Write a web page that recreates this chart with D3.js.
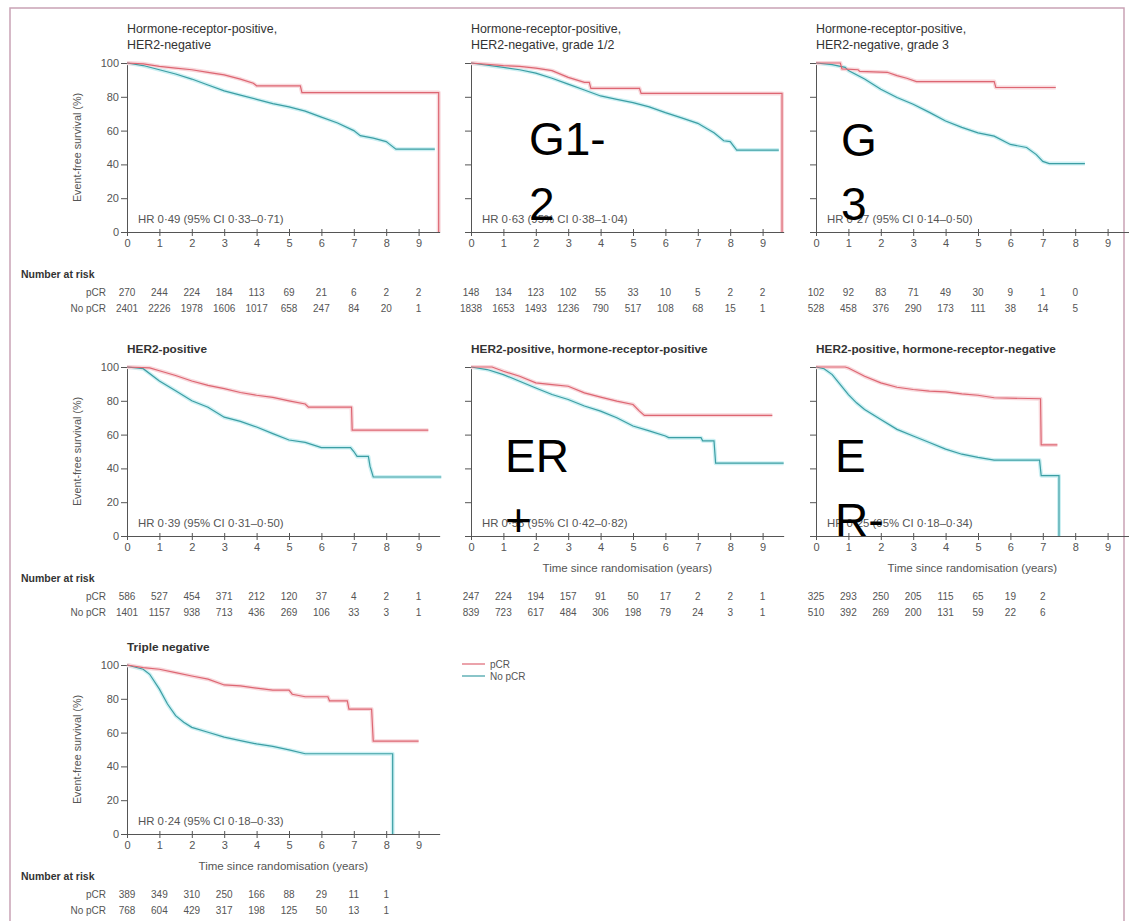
<!DOCTYPE html>
<html>
<head>
<meta charset="utf-8">
<script src="https://cdn.jsdelivr.net/npm/d3@7"></script>
<style>
  body { margin: 0; background: #fff; }
  svg { display: block; }
  text { font-family: "Liberation Sans", Arial, sans-serif; }
</style>
</head>
<body>
<svg id="chart" width="1129" height="921"></svg>
<script>
// ---- Kaplan–Meier estimates: [years, event-free survival %] ----
const pcr_hrposHer2neg   = [[0,100],[0.5,99.5],[1,98],[1.5,97],[2,96],[2.5,94.5],[3,93],[3.5,90.5],[3.9,88],[4,86.5],[5.35,86.5],[5.4,82.5],[9.62,82.5],[9.62,0]];
const nopcr_hrposHer2neg = [[0,100],[0.5,98.5],[1,96],[1.5,93.5],[2,90.5],[2.5,87],[3,83.5],[3.5,81],[4,78.5],[4.5,76],[5,74],[5.5,71.5],[6,68],[6.5,64.5],[7,60],[7.2,57],[7.6,55.5],[8,53.5],[8.1,52],[8.3,49],[9.5,49]];

const pcr_grade12   = [[0,100],[1,98.5],[1.5,98],[2,97],[2.5,95.5],[3,91.5],[3.5,88.5],[3.65,88.5],[3.7,85],[5.2,85],[5.25,82],[9.6,82],[9.6,0]];
const nopcr_grade12 = [[0,100],[1,97.4],[1.5,96],[2,94],[2.5,91],[3,87.5],[3.5,84],[4,80.5],[4.5,78.5],[5,76.6],[5.5,74],[6,70.6],[6.5,67.5],[7,64.3],[7.3,61],[7.5,58.7],[7.8,54],[8,53.5],[8.2,48.5],[9.5,48.5]];

const pcr_grade3   = [[0,100],[0.75,100],[0.8,96.5],[1.3,96],[1.35,95],[2.2,94.5],[2.5,92.5],[2.8,91],[3.1,89],[5.5,89],[5.55,85.5],[7.4,85.5]];
const nopcr_grade3 = [[0,100],[0.5,99],[0.9,97.4],[1,95.5],[1.5,90.5],[2,84.5],[2.5,79.6],[3,75.6],[3.5,70.8],[4,65.7],[4.5,61.9],[5,58.7],[5.5,56.7],[6,51.8],[6.5,50],[6.8,45.8],[7,41.8],[7.2,40.5],[8.3,40.5]];

const pcr_her2pos   = [[0,100],[0.7,99.5],[1,97.8],[1.5,95],[2,91.7],[2.5,89.1],[3,87.2],[3.5,84.9],[4,83.3],[4.5,82],[5,80],[5.5,78.1],[5.6,76.2],[6.93,76.2],[6.95,62.6],[9.3,62.6]];
const nopcr_her2pos = [[0,100],[0.5,99],[1,91.7],[1.5,85.9],[2,80],[2.5,76.2],[3,70.3],[3.5,67.8],[4,64.5],[4.5,60.6],[5,56.8],[5.5,55.4],[6,52.3],[6.9,52.3],[7,50],[7.1,47.1],[7.45,47.1],[7.5,41.3],[7.6,34.9],[9.7,34.9]];

const pcr_her2posHrpos   = [[0,100],[0.65,100],[1,97.5],[1.5,94.5],[2,90.6],[2.5,89.6],[3,88.6],[3.5,84.7],[4,82.2],[4.5,79.8],[5,77.8],[5.2,73.9],[5.35,71.4],[9.3,71.4]];
const nopcr_her2posHrpos = [[0,100],[0.5,98.5],[1,95.5],[1.5,91.6],[2,87.6],[2.5,83.7],[3,80.8],[3.5,76.9],[4,73.9],[4.5,70],[5,65.1],[5.5,62.2],[6,59.2],[6.1,58.2],[7.1,58.2],[7.15,56.3],[7.5,56.3],[7.55,43.1],[9.65,43.1]];

const pcr_her2posHrneg   = [[0,100],[0.9,100],[1,99.4],[1.5,94.5],[2,90.6],[2.5,88],[3,86.7],[3.5,85.7],[4,85.3],[4.5,84.1],[5,83.3],[5.5,81.8],[6.93,81.2],[6.95,53.9],[7.45,53.9]];
const nopcr_her2posHrneg = [[0,100],[0.25,99],[0.5,95.5],[0.75,89.6],[1,83.7],[1.25,78.8],[1.5,74.9],[2,69],[2.5,63.1],[3,59.2],[3.5,55.3],[4,51.4],[4.5,48.4],[5,46.5],[5.5,44.9],[6.9,44.9],[6.95,35.7],[7.5,35.7],[7.5,0]];

const pcr_tnbc   = [[0,100],[0.5,98.4],[1,97.5],[1.5,95.5],[2,93.5],[2.5,91.6],[3,88.2],[3.5,87.6],[4,86.3],[4.5,85.1],[5,85.1],[5.1,82.7],[5.5,81.2],[6.2,81.2],[6.25,78.8],[6.8,78.8],[6.85,73.9],[7.55,73.9],[7.6,54.9],[9,54.9]];
const nopcr_tnbc = [[0,100],[0.5,97.5],[0.7,94.5],[1,85.7],[1.25,76.9],[1.5,70],[1.75,66.1],[2,63.1],[2.5,60.2],[3,57.3],[3.5,55.3],[4,53.3],[4.5,51.8],[5,49.8],[5.5,47.5],[8.2,47.5],[8.2,0]];

// ---- Number at risk, one value per year from 0 ----
const riskPcr_hrposHer2neg   = [270,244,224,184,113,69,21,6,2,2];
const riskNopcr_hrposHer2neg = [2401,2226,1978,1606,1017,658,247,84,20,1];
const riskPcr_grade12        = [148,134,123,102,55,33,10,5,2,2];
const riskNopcr_grade12      = [1838,1653,1493,1236,790,517,108,68,15,1];
const riskPcr_grade3         = [102,92,83,71,49,30,9,1,0];
const riskNopcr_grade3       = [528,458,376,290,173,111,38,14,5];
const riskPcr_her2pos        = [586,527,454,371,212,120,37,4,2,1];
const riskNopcr_her2pos      = [1401,1157,938,713,436,269,106,33,3,1];
const riskPcr_her2posHrpos   = [247,224,194,157,91,50,17,2,2,1];
const riskNopcr_her2posHrpos = [839,723,617,484,306,198,79,24,3,1];
const riskPcr_her2posHrneg   = [325,293,250,205,115,65,19,2];
const riskNopcr_her2posHrneg = [510,392,269,200,131,59,22,6];
const riskPcr_tnbc           = [389,349,310,250,166,88,29,11,1];
const riskNopcr_tnbc         = [768,604,429,317,198,125,50,13,1];

// ---- Axis ticks and labels ----
const yearTicks = [0,1,2,3,4,5,6,7,8,9];
const survivalTicks = [0,20,40,60,80,100];
const seriesNames = ["pCR", "No pCR"];
const xAxisTitle = "Time since randomisation (years)";
const yAxisTitle = "Event-free survival (%)";

const panels = [
  { row:0, col:0, title:["Hormone-receptor-positive,","HER2-negative"], bold:false,
    hr:"HR 0·49 (95% CI 0·33–0·71)", pcr:pcr_hrposHer2neg, nopcr:nopcr_hrposHer2neg,
    riskP:riskPcr_hrposHer2neg, riskN:riskNopcr_hrposHer2neg, xTitle:false },
  { row:0, col:1, title:["Hormone-receptor-positive,","HER2-negative, grade 1/2"], bold:false,
    hr:"HR 0·63 (95% CI 0·38–1·04)", pcr:pcr_grade12, nopcr:nopcr_grade12,
    riskP:riskPcr_grade12, riskN:riskNopcr_grade12, xTitle:false,
    tag:{ lines:["G1-","2"], x:529, y:[155,220] } },
  { row:0, col:2, title:["Hormone-receptor-positive,","HER2-negative, grade 3"], bold:false,
    hr:"HR 0·27 (95% CI 0·14–0·50)", pcr:pcr_grade3, nopcr:nopcr_grade3,
    riskP:riskPcr_grade3, riskN:riskNopcr_grade3, xTitle:false,
    tag:{ lines:["G","3"], x:841, y:[156,220] } },
  { row:1, col:0, title:["HER2-positive"], bold:true,
    hr:"HR 0·39 (95% CI 0·31–0·50)", pcr:pcr_her2pos, nopcr:nopcr_her2pos,
    riskP:riskPcr_her2pos, riskN:riskNopcr_her2pos, xTitle:false },
  { row:1, col:1, title:["HER2-positive, hormone-receptor-positive"], bold:true,
    hr:"HR 0·58 (95% CI 0·42–0·82)", pcr:pcr_her2posHrpos, nopcr:nopcr_her2posHrpos,
    riskP:riskPcr_her2posHrpos, riskN:riskNopcr_her2posHrpos, xTitle:true,
    tag:{ lines:["ER","+"], x:505, y:[472,536] } },
  { row:1, col:2, title:["HER2-positive, hormone-receptor-negative"], bold:true,
    hr:"HR 0·25 (95% CI 0·18–0·34)", pcr:pcr_her2posHrneg, nopcr:nopcr_her2posHrneg,
    riskP:riskPcr_her2posHrneg, riskN:riskNopcr_her2posHrneg, xTitle:true,
    tag:{ lines:["E","R-"], x:835, y:[472,536] } },
  { row:2, col:0, title:["Triple negative"], bold:true,
    hr:"HR 0·24 (95% CI 0·18–0·33)", pcr:pcr_tnbc, nopcr:nopcr_tnbc,
    riskP:riskPcr_tnbc, riskN:riskNopcr_tnbc, xTitle:true }
];

// ---- Layout ----
const colX = [127, 471, 816];      // y-axis position of each column
const rowBase = [232, 536, 834];   // y of 0% in each row
const plotH = 169;
const pxPerYear = 32.4;
const xMax = 9.65;

const colors = { pcr:"#dd6672", nopcr:"#3c9ea4", pcrHalo:"#f8d8dc", nopcrHalo:"#cdf0f3",
                 axis:"#555", text:"#555", dark:"#333", frame:"#c9a3b5" };

const svg = d3.select("#chart");

// outer frame
svg.append("path")
  .attr("d", "M10,930 L10,8 L1124,8 L1124,930")
  .attr("fill", "none").attr("stroke", colors.frame).attr("stroke-width", 1.5);

panels.forEach(p => {
  const x0 = colX[p.col], yb = rowBase[p.row];
  const x = d3.scaleLinear().domain([0, xMax]).range([x0, x0 + xMax * pxPerYear]);
  const y = d3.scaleLinear().domain([0, 100]).range([yb, yb - plotH]);
  const g = svg.append("g");

  // title
  const nT = p.title.length;
  p.title.forEach((t, i) => {
    g.append("text").attr("x", x0).attr("y", y(100) - 14 - (nT - 1 - i) * 16)
      .attr("font-size", p.bold ? 11.8 : 12.4).attr("font-weight", p.bold ? "bold" : "normal")
      .attr("fill", colors.dark).text(t);
  });

  // axes
  const xa = g.append("g").attr("transform", `translate(0,${yb})`)
    .call(d3.axisBottom(x).tickValues(yearTicks).tickSize(4).tickSizeOuter(0).tickPadding(3).tickFormat(d3.format("d")));
  xa.selectAll(".tick line").attr("y1", -3);
  const ya = g.append("g").attr("transform", `translate(${x0},0)`)
    .call(d3.axisLeft(y).tickValues(survivalTicks).tickSize(6).tickSizeOuter(0).tickPadding(2)
      .tickFormat(p.col === 0 ? d3.format("d") : ""));
  [xa, ya].forEach(a => {
    a.select(".domain").attr("stroke", colors.axis);
    a.selectAll(".tick line").attr("stroke", colors.axis);
    a.selectAll(".tick text").attr("fill", colors.text).attr("font-size", 11)
      .attr("font-family", "'Liberation Sans', Arial, sans-serif");
  });

  if (p.col === 0) {
    g.append("text")
      .attr("transform", `translate(${x0 - 46},${y(50)}) rotate(-90)`)
      .attr("text-anchor", "middle").attr("font-size", 10.8).attr("fill", colors.text)
      .text(yAxisTitle);
  }
  if (p.xTitle) {
    g.append("text").attr("x", x(xMax / 2)).attr("y", yb + 36)
      .attr("text-anchor", "middle").attr("font-size", 11.5).attr("fill", colors.text)
      .text(xAxisTitle);
  }

  // survival curves
  const line = d3.line().x(d => x(d[0])).y(d => y(d[1]));
  [["nopcr", p.nopcr], ["pcr", p.pcr]].forEach(([k, data]) => {
    g.append("path").attr("d", line(data)).attr("fill", "none")
      .attr("stroke", colors[k + "Halo"]).attr("stroke-width", 4).attr("stroke-linejoin", "round");
  });
  [["nopcr", p.nopcr], ["pcr", p.pcr]].forEach(([k, data]) => {
    g.append("path").attr("d", line(data)).attr("fill", "none")
      .attr("stroke", colors[k]).attr("stroke-width", 1.2);
  });

  // hazard ratio
  g.append("text").attr("x", x0 + 11).attr("y", yb - 9)
    .attr("font-size", 11.4).attr("fill", colors.text).text(p.hr);

  // numbers at risk
  const rowY = [yb + 64, yb + 80];
  if (p.col === 0) {
    g.append("text").attr("x", 21).attr("y", yb + 46).attr("font-size", 10.5)
      .attr("font-weight", "bold").attr("fill", colors.dark).text("Number at risk");
    seriesNames.forEach((s, i) => {
      g.append("text").attr("x", x0 - 21).attr("y", rowY[i]).attr("text-anchor", "end")
        .attr("font-size", 10).attr("fill", colors.text).text(s);
    });
  }
  [p.riskP, p.riskN].forEach((vals, i) => {
    g.selectAll(null).data(vals).enter().append("text")
      .attr("x", (d, j) => x(yearTicks[j])).attr("y", rowY[i])
      .attr("text-anchor", "middle").attr("font-size", 10).attr("fill", colors.text)
      .text(d => d);
  });

  // subgroup tag
  if (p.tag) {
    p.tag.lines.forEach((t, i) => {
      svg.append("text").attr("x", p.tag.x).attr("y", p.tag.y[i])
        .attr("font-size", 46).attr("fill", "#000").text(t);
    });
  }
});

// legend
const legend = svg.append("g");
[["pcr", 664], ["nopcr", 676]].forEach(([k, ly], i) => {
  legend.append("line").attr("x1", 462).attr("x2", 485).attr("y1", ly).attr("y2", ly)
    .attr("stroke", colors[k]).attr("stroke-width", 1.2);
  legend.append("text").attr("x", 490).attr("y", ly + 3.5).attr("font-size", 10)
    .attr("fill", colors.text).text(seriesNames[i]);
});
</script>
</body>
</html>
